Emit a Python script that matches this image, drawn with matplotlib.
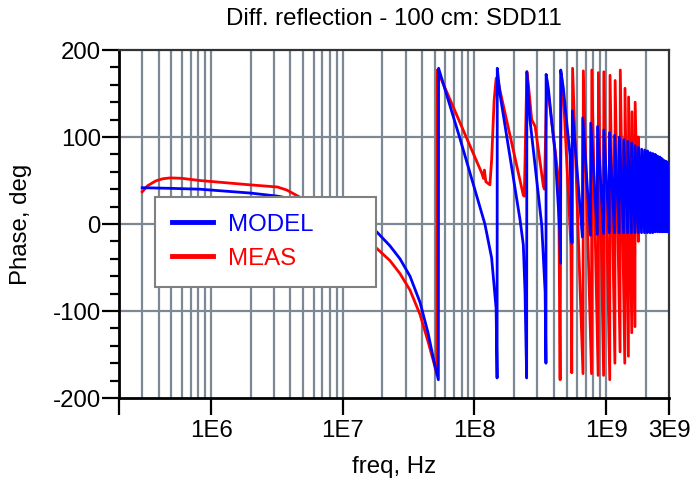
import matplotlib
matplotlib.use("Agg")
import matplotlib.pyplot as plt
from matplotlib.ticker import FixedLocator, MultipleLocator, NullLocator

plt.rcParams['font.family'] = ['Liberation Sans', 'DejaVu Sans']
plt.rcParams['axes.unicode_minus'] = False

title = "Diff. reflection - 100 cm: SDD11"
x_label = "freq, Hz"
y_label = "Phase, deg"
series_names = ["MODEL", "MEAS"]
series_colors = ["#0000ff", "#ff0000"]

x_tick_values = [2e5, 1e6, 1e7, 1e8, 1e9, 3e9]
x_tick_labels = ["", "1E6", "1E7", "1E8", "1E9", "3E9"]
y_tick_values = [-200, -100, 0, 100, 200]

# MODEL (blue) phase, deg vs freq, Hz
model_freq = [
    3e5, 4.9e5, 8.2e5, 1.98e6, 3.2e6, 6e6, 1.0e7, 1.81e7, 2.28e7, 2.72e7,
    3.24e7, 3.86e7, 4.44e7, 4.93e7, 5.32e7,
    5.34e7, 7.77e7, 1.2e8, 1.35e8, 1.46e8, 1.485e8,
    1.49e8, 1.56e8, 2.22e8, 2.35e8, 2.42e8, 2.49e8,
    2.5e8, 2.64e8, 3.24e8, 3.44e8, 3.49e8,
    3.5e8, 3.64e8, 3.86e8, 4.09e8, 4.44e8, 4.5e8,
    4.52e8, 4.73e8, 5.01e8, 5.32e8, 5.5e8,
    5.54e8, 6.6e8, 6.64e8, 7.6e8, 7.64e8, 8.56e8, 8.6e8, 9.56e8,
    9.6e8, 1.055e9, 1.06e9, 1.155e9, 1.16e9, 1.255e9, 1.26e9, 1.355e9,
    1.36e9, 1.455e9, 1.46e9, 1.555e9, 1.56e9, 1.655e9, 1.66e9, 1.755e9,
    1.76e9, 1.855e9, 1.86e9, 1.955e9, 1.96e9, 2.055e9, 2.06e9, 2.155e9,
    2.16e9, 2.255e9, 2.26e9, 2.355e9, 2.36e9, 2.455e9, 2.46e9, 2.555e9,
    2.56e9, 2.655e9, 2.66e9, 2.755e9, 2.76e9, 2.855e9, 2.86e9, 2.955e9,
    2.96e9, 3.0e9,
]
model_phase = [
    41.7, 41, 40, 35.6, 32, 24, 13, -9, -25, -40,
    -60, -90, -125, -158, -179,
    179, 98, 0, -39, -97, -177,
    179, 150, 4.6, -24, -78, -177,
    175, 119.5, -1, -78, -160,
    172, 156, 117.6, 83, -7, -45,
    177, 156, 117.6, 79, -22,
    130, -15, 122, -13, 116, -12, 112, -11,
    108, -10, 105, -10, 102, -10, 100, -10,
    97, -10, 95, -10, 93, -10, 90, -10,
    88, -10, 86, -10, 85, -10, 84, -10,
    82, -10, 81, -9, 80, -9, 78, -9,
    77, -9, 75, -9, 73, -9, 72, -9,
    70, 55,
]

# MEAS (red) phase, deg vs freq, Hz
meas_freq = [
    3e5, 3.3e5, 3.8e5, 4.3e5, 4.9e5, 6e5, 8.2e5, 1.98e6, 3.2e6, 3.76e6,
    4.7e6, 7e6, 1.1e7,
    1.81e7, 2.28e7, 2.72e7, 3.24e7, 3.86e7, 4.44e7, 4.93e7, 5.18e7,
    5.22e7, 1.14e8, 1.17e8, 1.19e8, 1.22e8, 1.31e8, 1.35e8, 1.41e8, 1.46e8,
    1.49e8, 1.56e8, 2.35e8, 2.39e8,
    2.5e8, 2.56e8, 2.72e8, 2.89e8, 3.34e8, 3.4e8,
    3.54e8, 4.36e8, 4.47e8,
    4.55e8, 4.75e8, 5.4e8, 5.48e8,
    5.56e8, 6.67e8, 6.71e8, 7.74e8, 7.78e8, 8.69e8, 8.73e8, 9.56e8,
    9.6e8, 1.065e9, 1.07e9, 1.165e9, 1.17e9, 1.275e9, 1.28e9, 1.385e9,
    1.39e9, 1.475e9, 1.48e9, 1.565e9, 1.57e9, 1.655e9, 1.66e9, 1.755e9,
    1.76e9, 1.8e9,
]
meas_phase = [
    37, 44, 49.5, 52, 53, 52.5, 50, 45, 42.5, 39,
    31, 18, 0,
    -28, -42, -57, -76, -104, -135, -160, -173,
    177, 58, 52.5, 62, 48.6, 45, 73.6, 142, 167,
    169, 154, 33, 32,
    175, 162, 120, 112, 43, 40,
    165, 50, -179,
    173, 145, -25, -171,
    179, -172, 176, -172, 177, -174, 174, -174,
    175, -179, 171, -160, 165, -147, 177, -160,
    156, -152, 146, -125, 129, -118, 140, -20,
    100, 20,
]

FS = 17.3
grid_color = "#7d8895"

fig = plt.figure(figsize=(6.93, 4.86), dpi=100)
ax = fig.add_axes([119 / 693, 1 - 398 / 486, 550 / 693, 348 / 486])

ax.set_xscale("log")
ax.set_xlim(2e5, 3e9)
ax.set_ylim(-200, 200)

ax.xaxis.set_major_locator(FixedLocator(x_tick_values))
ax.xaxis.set_minor_locator(NullLocator())
ax.set_xticklabels(x_tick_labels)
grid_x = [m * 10 ** e for e in range(5, 10) for m in range(1, 10)]
grid_x = [g for g in grid_x if 2e5 < g < 3e9]
for g in grid_x:
    ax.axvline(g, color=grid_color, lw=1.6, zorder=0.5)
for g in [-100, 0, 100]:
    ax.axhline(g, color=grid_color, lw=1.6, zorder=0.5)

ax.yaxis.set_major_locator(FixedLocator(y_tick_values))
ax.yaxis.set_minor_locator(MultipleLocator(20))

l_meas, = ax.plot(meas_freq, meas_phase, color=series_colors[1], lw=2.0,
                  zorder=2, label=series_names[1])
l_model, = ax.plot(model_freq, model_phase, color=series_colors[0], lw=2.0,
                   zorder=3, label=series_names[0])

for side in ["left", "bottom"]:
    ax.spines[side].set_linewidth(2.0)
    ax.spines[side].set_color("black")
for side in ["top", "right"]:
    ax.spines[side].set_linewidth(1.6)
    ax.spines[side].set_color("#333333")

ax.tick_params(axis="both", which="major", direction="out", length=12,
               width=1.6, labelsize=FS, color="black")
ax.tick_params(axis="y", which="major", pad=1)
ax.tick_params(axis="x", which="major", pad=4)
ax.tick_params(axis="y", which="minor", direction="out", length=6.5, width=1.6)

leg = ax.legend(handles=[l_model, l_meas], loc="upper left",
                bbox_to_anchor=(36 / 550, 201 / 348, 221 / 550, 0.0),
                mode="expand", fontsize=FS, handlelength=1.7,
                handletextpad=0.65, labelspacing=0.5, borderpad=0.7,
                borderaxespad=0, fancybox=False, framealpha=1,
                edgecolor="#808080", labelcolor="linecolor")
leg.get_frame().set_linewidth(1.5)
for h in leg.get_lines():
    h.set_linewidth(3.5)
leg.set_zorder(5)

fig.text(394 / 693, 1 - 19 / 486, title, ha="center", va="center", fontsize=FS)
fig.text(394 / 693, 1 - 467 / 486, x_label, ha="center", va="center", fontsize=FS)
fig.text(21 / 693, 1 - 224 / 486, y_label, ha="center", va="center",
         rotation=90, fontsize=FS)

fig.savefig("out.png", dpi=100)
